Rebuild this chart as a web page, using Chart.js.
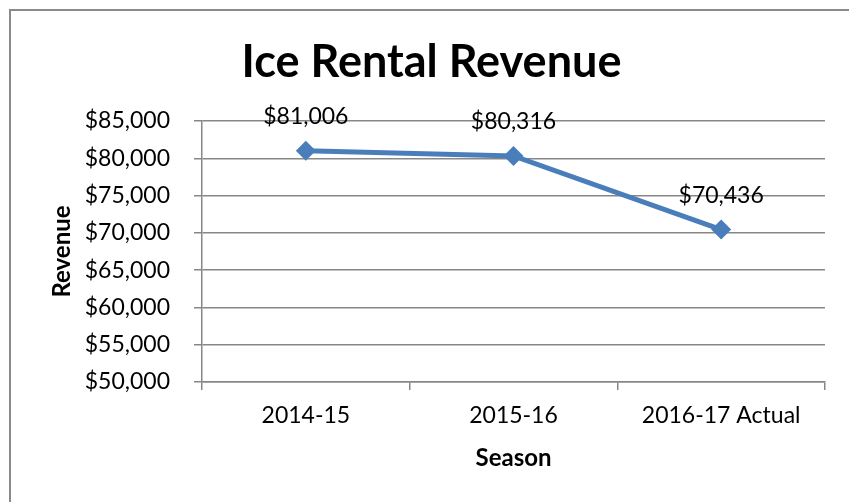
<!DOCTYPE html>
<html>
<head>
<meta charset="utf-8">
<script src="https://cdn.jsdelivr.net/npm/chart.js@4/dist/chart.umd.min.js"></script>
<style>
  html, body { margin: 0; padding: 0; background: #fff; overflow: hidden; }
  #frame {
    position: absolute; left: 9px; top: 9px; width: 900px; height: 600px;
    border: 2px solid #8a8a8a; box-sizing: border-box;
  }
  #revenueChart { position: absolute; left: 0; top: 0; }
</style>
</head>
<body>
<div id="frame"></div>
<canvas id="revenueChart" width="849" height="502"></canvas>
<script>
const seasons = ['2014-15', '2015-16', '2016-17 Actual'];
const revenue = [81006, 80316, 70436];
const yMin = 50000;
const yMax = 85000;
const yStep = 5000;

const FONT = 'Lato, "Open Sans", sans-serif';
const gridColor = '#878787';

const money = v => '$' + Number(v).toLocaleString('en-US');

// draws the value above each point (no datalabels plugin available)
const pointLabels = {
  id: 'pointLabels',
  afterDatasetsDraw(chart) {
    const ctx = chart.ctx;
    const meta = chart.getDatasetMeta(0);
    ctx.save();
    ctx.font = '23px ' + FONT;
    ctx.fillStyle = '#000';
    ctx.textAlign = 'center';
    ctx.textBaseline = 'middle';
    meta.data.forEach((pt, i) => {
      ctx.fillText(money(revenue[i]), pt.x, pt.y - 34);
    });
    ctx.restore();
  }
};

new Chart(document.getElementById('revenueChart'), {
  type: 'line',
  data: {
    labels: seasons,
    datasets: [{
      label: 'Revenue',
      data: revenue,
      borderColor: '#4a7ebb',
      backgroundColor: '#4a7ebb',
      borderWidth: 5,
      pointStyle: 'rectRot',
      pointRadius: 10,
      pointBorderWidth: 0,
      tension: 0,
      fill: false
    }]
  },
  options: {
    responsive: false,
    animation: false,
    // left padding 38 so the title centres where the original does
    layout: { padding: { left: 38, right: 24, top: 0, bottom: 0 } },
    plugins: {
      legend: { display: false },
      tooltip: { enabled: false },
      title: {
        display: true,
        text: 'Ice Rental Revenue',
        color: '#000',
        font: { family: FONT, size: 45, weight: 'bold' },
        padding: { top: 35, bottom: 32 }
      }
    },
    scales: {
      x: {
        offset: true,
        grid: {
          offset: true,
          drawOnChartArea: false,
          color: gridColor,
          lineWidth: 1.5,
          tickLength: 8
        },
        border: { color: gridColor, width: 1.5 },
        ticks: { color: '#000', padding: 12, font: { family: FONT, size: 23 } },
        title: {
          display: true,
          text: 'Season',
          color: '#000',
          font: { family: FONT, size: 24, weight: 'bold' },
          padding: { top: 0, bottom: 29.6 }
        },
        afterFit(scale) { scale.height = 120; }
      },
      y: {
        min: yMin,
        max: yMax,
        grid: { color: gridColor, lineWidth: 1.5, tickLength: 8 },
        border: { color: gridColor, width: 1.5 },
        ticks: {
          stepSize: yStep,
          color: '#000',
          padding: 24,
          font: { family: FONT, size: 23 },
          callback: v => money(v)
        },
        title: {
          display: true,
          text: 'Revenue',
          color: '#000',
          font: { family: FONT, size: 24, weight: 'bold' },
          padding: { top: 9.6, bottom: 0 }
        },
        afterFit(scale) { scale.width = 164; }
      }
    }
  },
  plugins: [pointLabels]
});
</script>
</body>
</html>
